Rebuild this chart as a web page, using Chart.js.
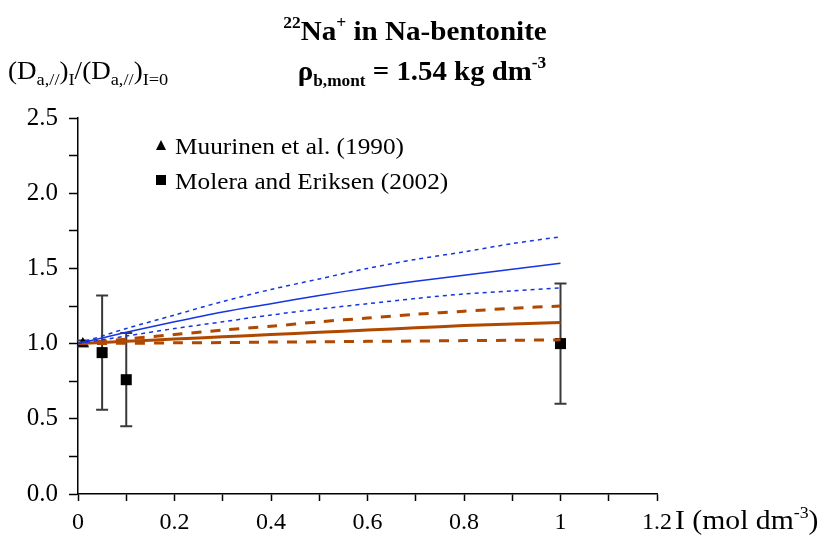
<!DOCTYPE html>
<html>
<head>
<meta charset="utf-8">
<script src="https://cdn.jsdelivr.net/npm/chart.js@4.4.1/dist/chart.umd.min.js"></script>
<style>
html,body{margin:0;padding:0;background:#fff;}
#c{display:block;}
</style>
</head>
<body>
<canvas id="c" width="826" height="541"></canvas>
<script>
// ---- data ----
const modelI   = [0, 0.1, 0.2, 0.3, 0.4, 0.5, 0.6, 0.7, 0.8, 0.9, 1.0];
const blueMid  = [1.00, 1.075, 1.145, 1.21, 1.265, 1.32, 1.37, 1.415, 1.455, 1.495, 1.535];
const blueHigh = [1.00, 1.10, 1.19, 1.28, 1.36, 1.43, 1.50, 1.56, 1.61, 1.665, 1.71];
const blueLow  = [1.00, 1.05, 1.10, 1.145, 1.19, 1.23, 1.265, 1.30, 1.33, 1.35, 1.37];
const orMid    = [1.00, 1.015, 1.03, 1.045, 1.06, 1.075, 1.09, 1.105, 1.12, 1.13, 1.14];
const orHigh   = [1.00, 1.03, 1.06, 1.09, 1.115, 1.145, 1.17, 1.195, 1.215, 1.235, 1.25];
const orLow    = [1.00, 1.002, 1.005, 1.007, 1.01, 1.012, 1.015, 1.017, 1.02, 1.022, 1.025];

const muurinenI   = [0.01];
const muurinenD   = [1.00];
const muurinenErr = [0.02];

const moleraI   = [0.05, 0.10, 1.00];
const moleraD   = [0.94, 0.76, 1.00];
const moleraErr = [0.38, 0.31, 0.40];

const xTickStep = 0.1, xMax = 1.2;
const yTickStep = 0.25, yMax = 2.5;

const legendLabels = ['Muurinen et al. (1990)', 'Molera and Eriksen (2002)'];

// ---- helpers ----
const pts = (xs, ys) => xs.map((x, i) => ({x: x, y: ys[i]}));
const SERIF = '"Liberation Serif", "Times New Roman", serif';
const BLUE = '#1535e0';
const ORANGE = '#b04800';

function richText(ctx, segs, x, y, size, bold, align, sx, subRatio) {
  sx = sx || 1; subRatio = subRatio || 0.6;
  const fsOf = (s) => s.k === 'n' ? size : size * subRatio;
  let total = 0;
  segs.forEach(s => {
    ctx.font = (bold ? 'bold ' : '') + fsOf(s) + 'px ' + SERIF;
    total += ctx.measureText(s.t).width;
  });
  total *= sx;
  const x0 = align === 'center' ? x - total / 2 : x;
  ctx.save();
  ctx.translate(x0, y);
  ctx.scale(sx, 1);
  ctx.textBaseline = 'alphabetic';
  ctx.textAlign = 'left';
  ctx.fillStyle = '#000';
  let cx = 0;
  segs.forEach(s => {
    ctx.font = (bold ? 'bold ' : '') + fsOf(s) + 'px ' + SERIF;
    let dy = 0;
    if (s.k === 'sup') dy = -size * 0.42;
    if (s.k === 'sub') dy = size * 0.22;
    ctx.fillText(s.t, cx, dy);
    cx += ctx.measureText(s.t).width;
  });
  ctx.restore();
}

const decorPlugin = {
  id: 'decor',
  beforeDatasetsDraw(chart) {
    const ctx = chart.ctx, xs = chart.scales.x, ys = chart.scales.y;
    ctx.save();
    ctx.strokeStyle = '#3a3a3a';
    ctx.lineWidth = 2;
    const bars = (I, D, E, cap) => {
      I.forEach((xv, i) => {
        const px = xs.getPixelForValue(xv);
        const pt = ys.getPixelForValue(D[i] + E[i]);
        const pb = ys.getPixelForValue(D[i] - E[i]);
        ctx.beginPath();
        ctx.moveTo(px, pt); ctx.lineTo(px, pb);
        ctx.moveTo(px - cap, pt); ctx.lineTo(px + cap, pt);
        ctx.moveTo(px - cap, pb); ctx.lineTo(px + cap, pb);
        ctx.stroke();
      });
    };
    bars(muurinenI, muurinenD, muurinenErr, 6);
    bars(moleraI, moleraD, moleraErr, 6);
    ctx.restore();
  },
  afterDraw(chart) {
    const ctx = chart.ctx;
    ctx.save();
    // title
    richText(ctx, [{t:'22',k:'sup'},{t:'Na',k:'n'},{t:'+',k:'sup'},{t:' in Na-bentonite',k:'n'}], 415, 40, 28, true, 'center', 1.04);
    richText(ctx, [{t:'ρ',k:'n'},{t:'b,mont',k:'sub'},{t:' = 1.54 kg dm',k:'n'},{t:'-3',k:'sup'}], 422, 80, 28, true, 'center', 1.03);
    // y title
    richText(ctx, [{t:'(D',k:'n'},{t:'a,//',k:'sub'},{t:')',k:'n'},{t:'I',k:'sub'},{t:'/(D',k:'n'},{t:'a,//',k:'sub'},{t:')',k:'n'},{t:'I=0',k:'sub'}], 8, 79, 26, false, 'left', 1.04, 0.68);
    // x title
    richText(ctx, [{t:'I (mol dm',k:'n'},{t:'-3',k:'sup'},{t:')',k:'n'}], 675, 529, 27, false, 'left', 1.1);
    // legend
    ctx.fillStyle = '#000';
    ctx.beginPath();
    ctx.moveTo(161, 140); ctx.lineTo(166, 150); ctx.lineTo(156, 150); ctx.closePath(); ctx.fill();
    ctx.fillRect(156, 175, 10, 10);
    richText(ctx, [{t:legendLabels[0],k:'n'}], 175, 154, 23, false, 'left', 1.1);
    richText(ctx, [{t:legendLabels[1],k:'n'}], 175, 189, 23, false, 'left', 1.1);
    ctx.restore();
  }
};

const lineDs = (data, color, width, dash) => ({
  type: 'scatter', data: pts(modelI, data), showLine: true, pointRadius: 0,
  borderColor: color, borderWidth: width, borderDash: dash, fill: false, tension: 0.3
});

new Chart(document.getElementById('c'), {
  type: 'scatter',
  data: {
    datasets: [
      lineDs(blueHigh, BLUE, 1.5, [4, 4]),
      lineDs(blueMid,  BLUE, 1.5, []),
      lineDs(blueLow,  BLUE, 1.5, [4, 4]),
      lineDs(orHigh, ORANGE, 3, [10, 9]),
      lineDs(orMid,  ORANGE, 3, []),
      lineDs(orLow,  ORANGE, 3, [10, 9]),
      { label: legendLabels[0], data: pts(muurinenI, muurinenD), pointStyle: 'triangle', pointRadius: 6.5,
        backgroundColor: '#000', borderColor: '#000', borderWidth: 0 },
      { label: legendLabels[1], data: pts(moleraI, moleraD), pointStyle: 'rect', pointRadius: 7.8,
        backgroundColor: '#000', borderColor: '#000', borderWidth: 0 }
    ]
  },
  options: {
    responsive: false,
    animation: false,
    layout: { padding: { top: 118, right: 169, bottom: 0, left: 0 } },
    plugins: { legend: { display: false }, tooltip: { enabled: false } },
    scales: {
      x: {
        type: 'linear', min: 0, max: xMax,
        afterFit(s) { s.height = 47; },
        border: { display: true, color: '#000', width: 1.5 },
        grid: { drawOnChartArea: false, drawTicks: true, tickLength: 7, tickColor: '#000', tickWidth: 1.5 },
        ticks: {
          stepSize: xTickStep, autoSkip: false, maxRotation: 0, padding: 7, color: '#000',
          font: { family: SERIF, size: 24 },
          callback: (v) => {
            const k = Math.round(v * 10);
            return k % 2 === 0 ? String(Number((k / 10).toFixed(1))) : '';
          }
        }
      },
      y: {
        type: 'linear', min: 0, max: yMax,
        afterFit(s) { s.width = 78; },
        border: { display: true, color: '#000', width: 1.5 },
        grid: { drawOnChartArea: false, drawTicks: true, tickLength: 9, tickColor: '#000', tickWidth: 1.5 },
        ticks: {
          stepSize: yTickStep, autoSkip: false, padding: 11, color: '#000',
          font: { family: SERIF, size: 25 },
          callback: (v) => {
            const k = Math.round(v * 4);
            return k % 2 === 0 ? (k / 4).toFixed(1) : '';
          }
        }
      }
    }
  },
  plugins: [decorPlugin]
});
</script>
</body>
</html>
